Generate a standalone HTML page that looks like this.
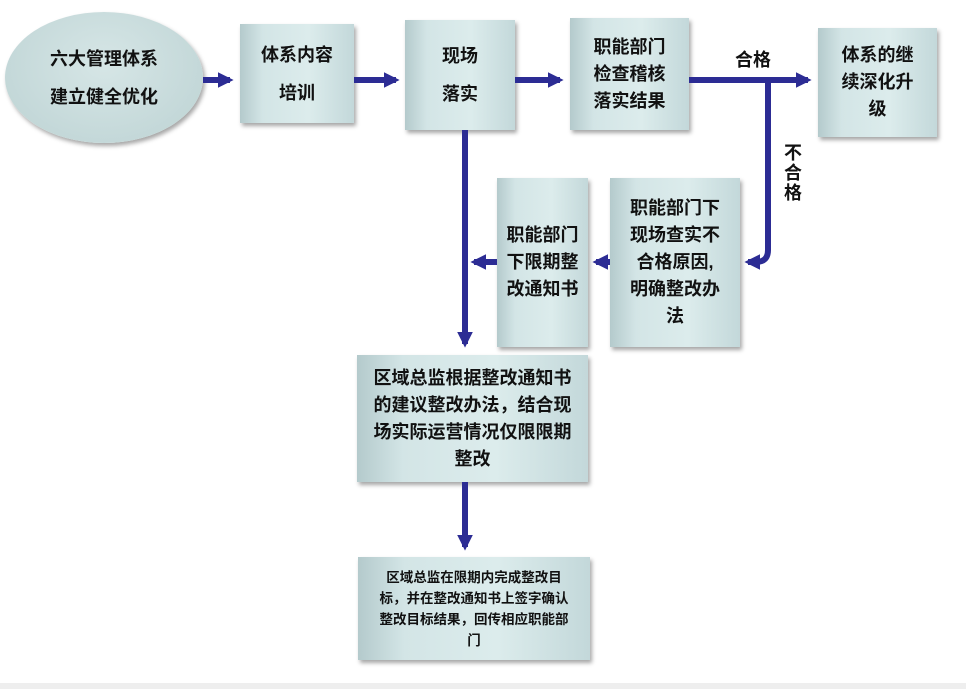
<!DOCTYPE html>
<html><head><meta charset="utf-8"><style>
body{margin:0;width:966px;height:689px;background:#fff;overflow:hidden;position:relative;font-family:"Liberation Sans","Noto Sans CJK SC",sans-serif;font-weight:bold;color:#111}
.b{position:absolute;background:linear-gradient(90deg,#b4cacc 0%,#d3e5e6 20%,#dcecec 60%,#c3d8da 100%);box-shadow:2px 3px 4px rgba(0,0,0,.35);display:flex;align-items:center;justify-content:center;text-align:center;box-sizing:border-box}
.t{position:absolute;font-size:18px}
svg{position:absolute;left:0;top:0}
</style></head><body>
<div style="position:absolute;left:0;top:683px;width:966px;height:6px;background:#eee"></div>
<div class="b" style="left:5px;top:12px;width:198px;height:131px;border-radius:50%;background:radial-gradient(ellipse at 50% 40%,#d6e6e6,#bcd2d3);font-size:18px;line-height:38px">六大管理体系<br>建立健全优化</div>
<div class="b" style="left:240px;top:24px;width:114px;height:99px;font-size:18px;line-height:38px">体系内容<br>培训</div>
<div class="b" style="left:405px;top:20px;width:110px;height:110px;font-size:18px;line-height:38px">现场<br>落实</div>
<div class="b" style="left:570px;top:18px;width:119px;height:112px;font-size:18px;line-height:27px">职能部门<br>检查稽核<br>落实结果</div>
<div class="b" style="left:818px;top:28px;width:119px;height:109px;font-size:18px;line-height:27px">体系的继<br>续深化升<br>级</div>
<div class="b" style="left:610px;top:178px;width:130px;height:169px;font-size:18px;line-height:27px">职能部门下<br>现场查实不<br>合格原因,<br>明确整改办<br>法</div>
<div class="b" style="left:497px;top:178px;width:91px;height:169px;font-size:18px;line-height:27px">职能部门<br>下限期整<br>改通知书</div>
<div class="b" style="left:357px;top:355px;width:231px;height:127px;font-size:18px;line-height:27px">区域总监根据整改通知书<br>的建议整改办法，结合现<br>场实际运营情况仅限限期<br>整改</div>
<div class="b" style="left:358px;top:557px;width:232px;height:103px;font-size:13.5px;line-height:21px">区域总监在限期内完成整改目<br>标，并在整改通知书上签字确认<br>整改目标结果，回传相应职能部<br>门</div>
<div class="t" style="left:735px;top:46px">合格</div>
<div class="t" style="left:784px;top:143px;line-height:20px;width:18px">不<br>合<br>格</div>
<svg width="966" height="689">
<defs><marker id="a" markerWidth="3" markerHeight="2.6" refX="2" refY="1.3" orient="auto"><path d="M0,0L2.6,1.3L0,2.6z" fill="#2c2c94"/></marker></defs>
<g stroke="#2c2c94" stroke-width="6" fill="none" marker-end="url(#a)">
<path d="M203,80H230"/>
<path d="M354,80H396"/>
<path d="M515,80H560"/>
<path d="M689,80H808"/>
<path d="M768,80V250Q768,262 756,262H748"/>
<path d="M610,262H596"/>
<path d="M497,262H474"/>
<path d="M465,130V344"/>
<path d="M465,482V547"/>
</g>
</svg>
</body></html>
